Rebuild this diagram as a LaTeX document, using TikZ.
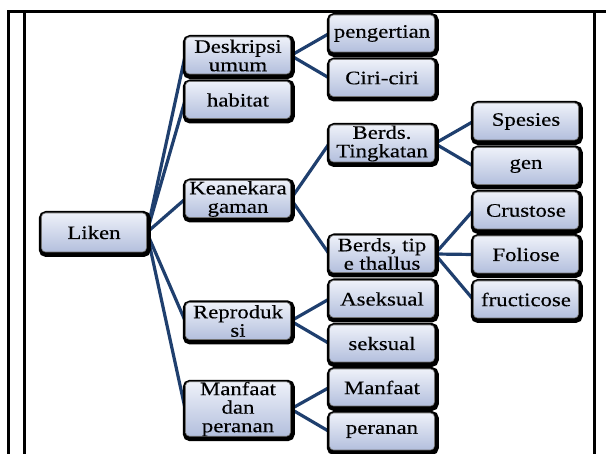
\documentclass[tikz,border=0pt]{standalone}
\usepackage{fontspec}
\setmainfont{Liberation Serif}[FakeStretch=1.2,FakeBold=0.3]
\usetikzlibrary{shadows,backgrounds}
\definecolor{lnk}{HTML}{1F3F6E}
\definecolor{boxtop}{HTML}{EEF1F9}
\definecolor{boxbot}{HTML}{B3BFDD}
\tikzset{
  tbox/.style={rounded corners=4pt, minimum width=105pt, minimum height=37pt,
    inner sep=0pt, align=center, draw=black!55, line width=0.6pt,
    top color=boxtop, bottom color=boxbot,
    general shadow={draw=black, fill=black, line width=7pt, shadow xshift=0.8pt, shadow yshift=-1.5pt},
    font=\fontsize{19}{18.5}\selectfont},
  lnkline/.style={draw=lnk, line width=3.2pt},
  frameline/.style={draw=black, line width=3pt}
}
\begin{document}
\begin{tikzpicture}[x=1pt,y=-1pt]
\useasboundingbox (0,0) rectangle (606,454);
\draw[frameline] (8.5,12) -- (606,12);
\draw[frameline] (8.5,10.5) -- (8.5,454);
\draw[frameline] (24.5,12) -- (24.5,454);
\draw[frameline] (594,12) -- (594,454);

\node[tbox, minimum height=39pt] (liken) at (94,232.5) {Liken};

\node[tbox] (desk) at (238,55.5) {Deskripsi\\umum};
\node[tbox] (hab) at (238,100) {habitat};
\node[tbox] (kean) at (238,199) {Keanekara\\gaman};
\node[tbox] (repro) at (238,321) {Reproduk\\si};
\node[tbox] (manp) at (238,409) {Manfaat\\dan\\peranan};

\node[tbox] (peng) at (382,33.5) {pengertian};
\node[tbox] (ciri) at (382,78) {Ciri-ciri};
\node[tbox] (bting) at (382,143.5) {Berds.\\Tingkatan};
\node[tbox] (btipe) at (382,254) {Berds, tip\\e thallus};
\node[tbox] (asek) at (382,299) {Aseksual};
\node[tbox] (sek) at (382,343.5) {seksual};
\node[tbox] (manf) at (382,387.5) {Manfaat};
\node[tbox] (peran) at (382,431.5) {peranan};

\node[tbox] (spes) at (526,121.5) {Spesies};
\node[tbox] (gen) at (526,166) {gen};
\node[tbox] (crus) at (526,210.5) {Crustose};
\node[tbox] (foli) at (526,254.5) {Foliose};
\node[tbox] (fruc) at (526,299.5) {fructicose};

\begin{scope}[on background layer]
\foreach \c in {desk,hab,kean,repro,manp}
  \draw[lnkline] (liken.east) -- (\c.west);
\draw[lnkline] (desk.east) -- (peng.west);
\draw[lnkline] (desk.east) -- (ciri.west);
\draw[lnkline] (kean.east) -- (bting.west);
\draw[lnkline] (kean.east) -- (btipe.west);
\draw[lnkline] (bting.east) -- (spes.west);
\draw[lnkline] (bting.east) -- (gen.west);
\draw[lnkline] (btipe.east) -- (crus.west);
\draw[lnkline] (btipe.east) -- (foli.west);
\draw[lnkline] (btipe.east) -- (fruc.west);
\draw[lnkline] (repro.east) -- (asek.west);
\draw[lnkline] (repro.east) -- (sek.west);
\draw[lnkline] (manp.east) -- (manf.west);
\draw[lnkline] (manp.east) -- (peran.west);
\end{scope}
\end{tikzpicture}
\end{document}
